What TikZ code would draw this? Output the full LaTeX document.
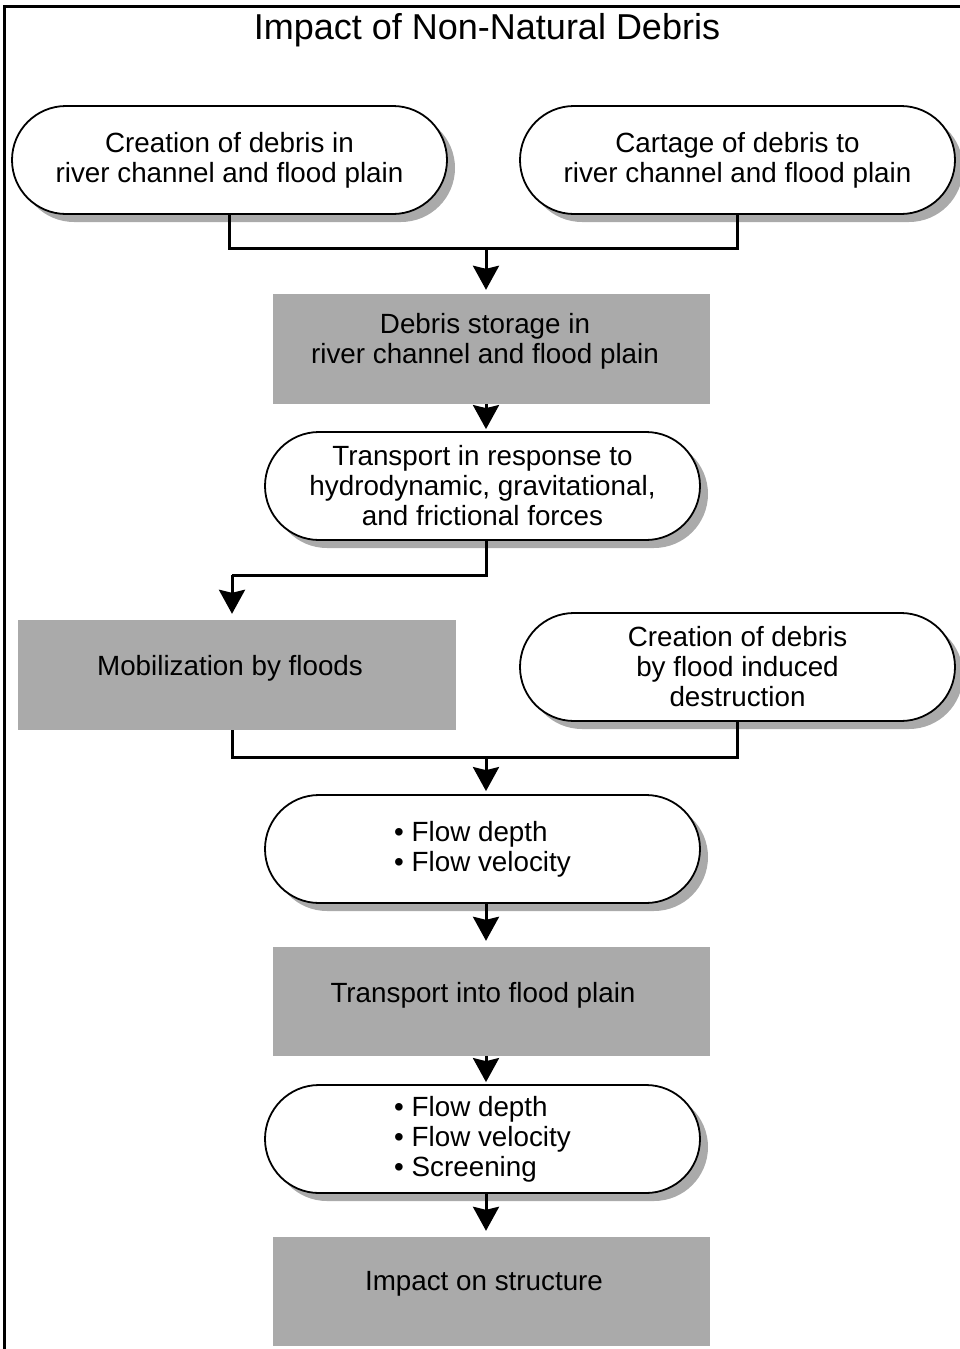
\documentclass[tikz,border=0pt]{standalone}
\usepackage{fontspec}
\setmainfont{Liberation Sans}
\usetikzlibrary{arrows.meta,shadows,calc}
\definecolor{boxgray}{HTML}{AAAAAA}
\definecolor{shadowgray}{HTML}{AAAAAA}
\begin{document}
\begin{tikzpicture}[x=1pt,y=-1pt,
  txt/.style={font=\fontsize{27.8}{30}\selectfont, align=center, inner sep=0pt},
  pill/.style={draw=black, line width=1.8pt, fill=white, rounded corners=54pt,
    minimum width=435pt, minimum height=108pt, inner sep=0pt,
    font=\fontsize{27.8}{30}\selectfont, align=center,
    drop shadow={shadow xshift=8pt, shadow yshift=-8pt, fill=shadowgray, opacity=1}},
  graybox/.style={fill=boxgray, draw=none, minimum width=437pt, minimum height=110pt, inner sep=0pt},
  conn/.style={line width=3pt},
  arr/.style={line width=3pt, -{Stealth[width=26pt,length=24pt,inset=3pt]}}
]
\useasboundingbox (0,0) rectangle (960,1349);
% frame
\draw[line width=3pt] (4,1349) -- (4,6) -- (960,6);
% title
\node[anchor=base, inner sep=0pt, font=\fontsize{36}{40}\selectfont] (title) at (487,39) {Impact of Non-Natural Debris};

% nodes
\node[pill] (s1) at (229.5,160) {Creation of debris in\\river channel and flood plain};
\node[pill] (s2) at (737.5,160) {Cartage of debris to\\river channel and flood plain};
\node[graybox] (b3) at (491.5,349) {};
\node[txt] (t3) at (485,341) {Debris storage in\\river channel and flood plain};
\node[pill] (s4) at (482.5,486) {Transport in response to\\hydrodynamic, gravitational,\\and frictional forces};
\node[graybox, minimum width=438pt] (b5) at (237,675) {};
\node[txt] (t5) at (230,668) {Mobilization by floods};
\node[pill] (s6) at (737.5,667) {Creation of debris\\by flood induced\\destruction};
\node[pill, align=left] (s7) at (482.5,849) {• Flow depth\\• Flow velocity};
\node[graybox, minimum height=109pt] (b8) at (491.5,1001.5) {};
\node[txt] (t8) at (483,995) {Transport into flood plain};
\node[pill, align=left] (s9) at (482.5,1139) {• Flow depth\\• Flow velocity\\• Screening};
\node[graybox, minimum height=109pt] (b10) at (491.5,1291.5) {};
\node[txt] (t10) at (484,1284) {Impact on structure};

% connectors
\coordinate (j1) at (486,248);
\draw[conn] (s1.south) |- (j1);
\draw[conn] (s2.south) |- (j1);
\draw[conn] (s1.south |- j1) -- (s2.south |- j1);
\draw[arr] (j1) -- ($(j1 |- b3.north)+(0,-4)$);

\draw[arr] (j1 |- b3.south) -- ($(j1 |- s4.north)+(0,-2)$);

\coordinate (k5) at (232,575);
\draw[conn] (j1 |- s4.south) |- (k5);
\draw[arr] (k5) -- ($(k5 |- b5.north)+(0,-6)$);

\coordinate (j2) at (486,757);
\coordinate (l5) at (232,730);
\draw[conn] (l5) |- (j2);
\draw[conn] (s6.south) |- (j2);
\draw[arr] (j2) -- ($(j2 |- s7.north)+(0,-3)$);

\draw[arr] (j2 |- s7.south) -- ($(j2 |- b8.north)+(0,-6)$);
\draw[arr] (j2 |- b8.south) -- ($(j2 |- s9.north)+(0,-2)$);
\draw[arr] (j2 |- s9.south) -- ($(j2 |- b10.north)+(0,-6)$);
\end{tikzpicture}
\end{document}
